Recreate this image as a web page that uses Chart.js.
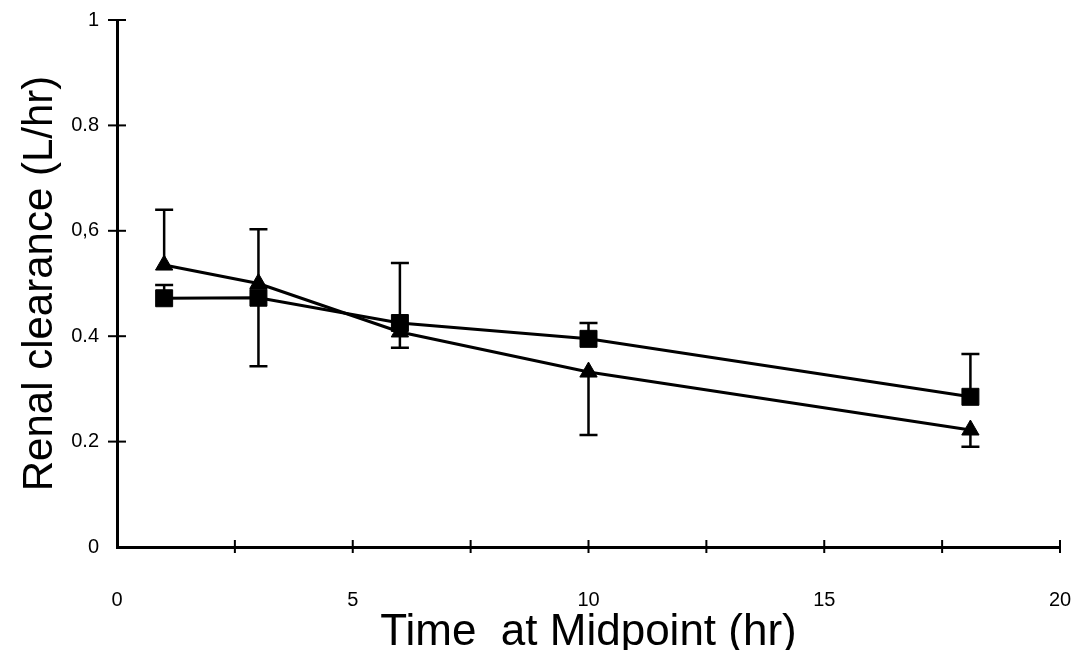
<!DOCTYPE html>
<html>
<head>
<meta charset="utf-8">
<script src="https://cdn.jsdelivr.net/npm/chart.js@4"></script>
<style>
  body { margin: 0; background: #fff; }
  canvas { display: block; }
</style>
</head>
<body>
<canvas id="clearance-chart" width="1082" height="650"></canvas>
<script>
const times = [1, 3, 6, 10, 18.1]
const triangleSeries = [0.535, 0.50, 0.408, 0.332, 0.222]
const squareSeries = [0.472, 0.473, 0.425, 0.395, 0.285]

// visible error bar ends (null = none shown)
const triangleUpper = [0.64, 0.603, null, null, null]
const triangleLower = [null, null, 0.378, 0.2125, 0.19]
const squareUpper = [0.497, null, 0.539, 0.425, 0.366]
const squareLower = [null, 0.343, null, null, null]

const xTickLabels = ['0', '5', '10', '15', '20']
const yTickLabels = ['0', '0.2', '0.4', '0,6', '0.8', '1']

const ink = '#000'
const fontName = "'Liberation Sans', Arial, sans-serif"

const toPoints = (vals) => vals.map((v, i) => ({ x: times[i], y: v }))

const whiteBg = {
  id: 'whiteBg',
  beforeDraw: (chart) => {
    const { ctx } = chart
    ctx.save()
    ctx.fillStyle = '#fff'
    ctx.fillRect(0, 0, chart.width, chart.height)
    ctx.restore()
  }
}

// tick marks that cross the axis lines
const crossTicks = {
  id: 'crossTicks',
  afterDraw: (chart) => {
    const { ctx, scales } = chart
    const x = scales.x, y = scales.y
    ctx.save()
    ctx.strokeStyle = ink
    ctx.lineWidth = 2
    y.ticks.forEach((t) => {
      if (t.value === 0) return
      const py = y.getPixelForValue(t.value)
      ctx.beginPath()
      ctx.moveTo(x.left - 9, py)
      ctx.lineTo(x.left + 9, py)
      ctx.stroke()
    })
    x.ticks.forEach((t) => {
      if (t.value === 0) return
      const px = x.getPixelForValue(t.value)
      ctx.beginPath()
      ctx.moveTo(px, y.bottom - 7)
      ctx.lineTo(px, y.bottom + 6)
      ctx.stroke()
    })
    ctx.restore()
  }
}

const errorBars = {
  id: 'errorBars',
  beforeDatasetsDraw: (chart) => {
    const { ctx, scales } = chart
    const x = scales.x, y = scales.y
    ctx.save()
    ctx.strokeStyle = ink
    ctx.lineWidth = 2.5
    chart.data.datasets.forEach((ds) => {
      ds.data.forEach((p, i) => {
        const px = x.getPixelForValue(p.x)
        const py = y.getPixelForValue(p.y)
        ;[ds.upper[i], ds.lower[i]].forEach((end) => {
          if (end == null) return
          const pe = y.getPixelForValue(end)
          ctx.beginPath()
          ctx.moveTo(px, py)
          ctx.lineTo(px, pe)
          ctx.moveTo(px - 9, pe)
          ctx.lineTo(px + 9, pe)
          ctx.stroke()
        })
      })
    })
    ctx.restore()
  }
}

new Chart(document.getElementById('clearance-chart'), {
  type: 'line',
  data: {
    datasets: [
      {
        label: 'triangle',
        data: toPoints(triangleSeries),
        upper: triangleUpper,
        lower: triangleLower,
        borderColor: ink,
        backgroundColor: ink,
        borderWidth: 3,
        pointStyle: 'triangle',
        pointRadius: 10,
        pointBorderWidth: 1,
        tension: 0
      },
      {
        label: 'square',
        data: toPoints(squareSeries),
        upper: squareUpper,
        lower: squareLower,
        borderColor: ink,
        backgroundColor: ink,
        borderWidth: 3,
        pointStyle: 'rect',
        pointRadius: 12,
        pointBorderWidth: 1,
        tension: 0
      }
    ]
  },
  options: {
    responsive: false,
    animation: false,
    devicePixelRatio: 1,
    layout: { padding: { top: 20, right: 22, left: 0, bottom: 0 } },
    plugins: {
      legend: { display: false },
      tooltip: { enabled: false }
    },
    scales: {
      x: {
        type: 'linear',
        min: 0,
        max: 20,
        afterFit: (s) => {
          s.height = 103
          s.paddingLeft = 0
          s.paddingRight = 0
        },
        border: { display: true, color: ink, width: 3 },
        grid: { drawOnChartArea: false, drawTicks: false },
        ticks: {
          stepSize: 2.5,
          autoSkip: false,
          maxRotation: 0,
          padding: 41,
          color: ink,
          font: { family: fontName, size: 20 },
          callback: (v) => (v % 5 === 0 ? xTickLabels[v / 5] : '')
        },
        title: {
          display: true,
          text: 'Time  at Midpoint (hr)',
          color: ink,
          font: { family: fontName, size: 44, lineHeight: 1 },
          padding: { top: 0, bottom: -5 }
        }
      },
      y: {
        type: 'linear',
        min: 0,
        max: 1,
        afterFit: (s) => {
          s.width = 117
          s.paddingTop = 0
          s.paddingBottom = 0
        },
        border: { display: true, color: ink, width: 3 },
        grid: { drawOnChartArea: false, drawTicks: false },
        ticks: {
          stepSize: 0.2,
          padding: 18,
          color: ink,
          font: { family: fontName, size: 20 },
          callback: (v) => yTickLabels[Math.round(v * 5)]
        },
        title: {
          display: true,
          text: 'Renal clearance (L/hr)',
          color: ink,
          font: { family: fontName, size: 42, lineHeight: 1 },
          padding: { top: 19, bottom: 0 }
        }
      }
    }
  },
  plugins: [whiteBg, crossTicks, errorBars]
})
</script>
</body>
</html>
